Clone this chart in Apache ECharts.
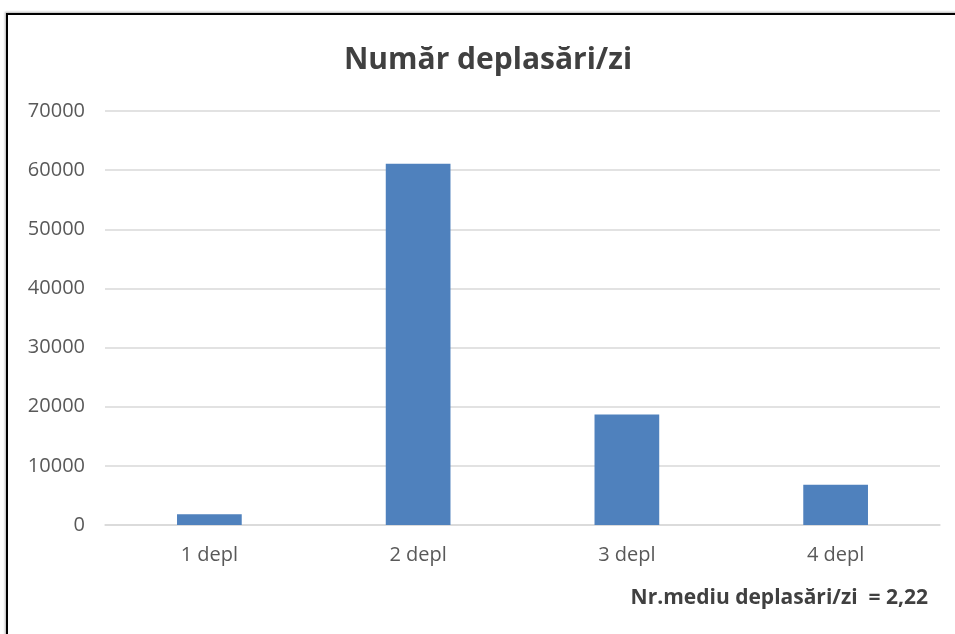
<!DOCTYPE html>
<html>
<head>
<meta charset="utf-8">
<script src="https://cdn.jsdelivr.net/npm/echarts@6/dist/echarts.min.js"></script>
<style>
html,body{margin:0;padding:0;background:#fff;}
#c{width:955px;height:634px;position:relative;}
#frame{position:absolute;left:6px;top:13px;width:960px;height:640px;border-top:2px solid #000;border-left:2px solid #000;box-shadow:-1px -1px 2px rgba(0,0,0,0.3);pointer-events:none;}
</style>
</head>
<body>
<div style="position:relative;width:955px;height:634px;overflow:hidden;">
<div id="c"></div>
<div id="frame"></div>
</div>
<script>
var categories = ['1 depl', '2 depl', '3 depl', '4 depl'];
var values = [1800, 61100, 18700, 6800];
var titleText = 'Număr deplasări/zi';
var noteText = 'Nr.mediu deplasări/zi  = 2,22';

var chart = echarts.init(document.getElementById('c'));
chart.setOption({
  animation: false,
  backgroundColor: '#fff',
  graphic: [{
    type: 'text',
    x: 488,
    y: 60,
    style: {text: titleText, fontFamily: 'Open Sans', fontWeight: 'bold', fontSize: 30, fill: '#404040',
      align: 'center', verticalAlign: 'middle'}
  }, {
    type: 'text',
    right: 27,
    top: 588,
    style: {text: noteText, fontFamily: 'Open Sans', fontWeight: 'bold', fontSize: 21, fill: '#404040'}
  }],
  grid: {left: 105, right: 15, top: 111, bottom: 109},
  xAxis: {
    type: 'category',
    data: categories,
    axisLine: {lineStyle: {color: '#d9d9d9', width: 1.5}},
    axisTick: {show: false},
    axisLabel: {color: '#595959', fontSize: 20, fontFamily: 'Open Sans', margin: 20}
  },
  yAxis: {
    type: 'value',
    min: 0, max: 70000, interval: 10000,
    axisLine: {show: false},
    axisTick: {show: false},
    axisLabel: {color: '#595959', fontSize: 20, fontFamily: 'Open Sans', margin: 20,
      formatter: function (v) { return String(v); }},
    splitLine: {lineStyle: {color: '#d9d9d9', width: 1.5}}
  },
  series: [{
    type: 'bar',
    data: values,
    barWidth: '31%',
    itemStyle: {color: '#4f81bd'}
  }]
});
</script>
</body>
</html>
